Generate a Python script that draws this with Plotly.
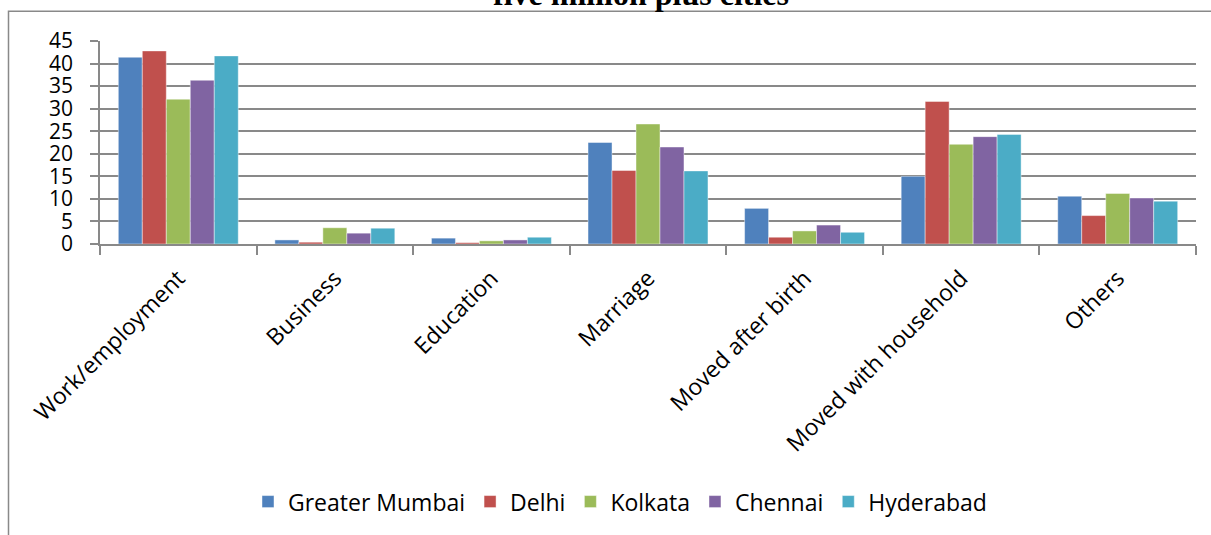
import plotly.graph_objects as go

categories = ["Work/employment", "Business", "Education", "Marriage",
              "Moved after birth", "Moved with household", "Others"]
greater_mumbai = [41.4, 0.9, 1.3, 22.5, 7.9, 15.0, 10.6]
delhi = [42.8, 0.4, 0.3, 16.3, 1.5, 31.6, 6.3]
kolkata = [32.1, 3.6, 0.7, 26.6, 2.9, 22.1, 11.2]
chennai = [36.3, 2.4, 0.9, 21.5, 4.2, 23.8, 10.2]
hyderabad = [41.7, 3.5, 1.5, 16.2, 2.6, 24.3, 9.5]
series_names = ["Greater Mumbai", "Delhi", "Kolkata", "Chennai", "Hyderabad"]
series_values = [greater_mumbai, delhi, kolkata, chennai, hyderabad]
colors = ["#4F81BD", "#C0504D", "#9BBB59", "#8064A2", "#4BACC6"]
y_ticks = [0, 5, 10, 15, 20, 25, 30, 35, 40, 45]

FONT = "Open Sans"
GRID = "#898989"

fig = go.Figure()
for name, vals, col in zip(series_names, series_values, colors):
    fig.add_trace(go.Bar(
        x=categories, y=vals, name=name,
        marker=dict(color=col, line=dict(color="rgba(255,255,255,0.55)", width=0.8)),
    ))

# plot area in pixels
L, R, T, B = 100, 1196, 40.7, 244
W, H = R - L, B - T

def px_x(x):
    return (x - L) / W

def px_y(y):
    return (B - y) / H

fig.update_layout(
    width=1211, height=535,
    margin=dict(l=L, r=1211 - R, t=T, b=535 - B, pad=0),
    paper_bgcolor="white", plot_bgcolor="white",
    barmode="group", bargap=0.234, bargroupgap=0,
    font=dict(family=FONT, size=22, color="black"),
    showlegend=True,
    legend=dict(orientation="h", x=px_x(620), y=px_y(502), xanchor="center", yanchor="middle",
                font=dict(family=FONT, size=23, color="black"), traceorder="normal",
                itemwidth=30, bgcolor="rgba(0,0,0,0)"),
    xaxis=dict(
        type="category", tickangle=-45, tickson="boundaries",
        ticks="outside", ticklen=9, tickcolor=GRID, tickwidth=1.5,
        showline=True, linecolor=GRID, linewidth=1.5, ticklabelstandoff=10,
        showgrid=False, tickfont=dict(family=FONT, size=23, color="black"),
    ),
    yaxis=dict(
        range=[0, 45], tickvals=y_ticks, ticktext=[str(v) for v in y_ticks],
        ticks="outside", ticklen=8, tickcolor=GRID, tickwidth=1.5,
        showline=True, linecolor=GRID, linewidth=1.5,
        showgrid=True, gridcolor=GRID, gridwidth=1.5, zeroline=False,
        tickfont=dict(family=FONT, size=21, color="black"), ticklabelstandoff=13,
    ),
    shapes=[dict(type="rect", xref="paper", yref="paper",
                 x0=px_x(8.5), x1=px_x(1230), y0=px_y(560), y1=px_y(11),
                 line=dict(color=GRID, width=1.5), fillcolor="rgba(0,0,0,0)", layer="below")],
    annotations=[dict(text="<b>five million plus cities</b>", xref="paper", yref="paper",
                      x=px_x(641), y=px_y(14), xanchor="center", yanchor="bottom",
                      showarrow=False,
                      font=dict(family="Liberation Serif", size=32, color="black"))],
)

fig.write_html("out.html")
